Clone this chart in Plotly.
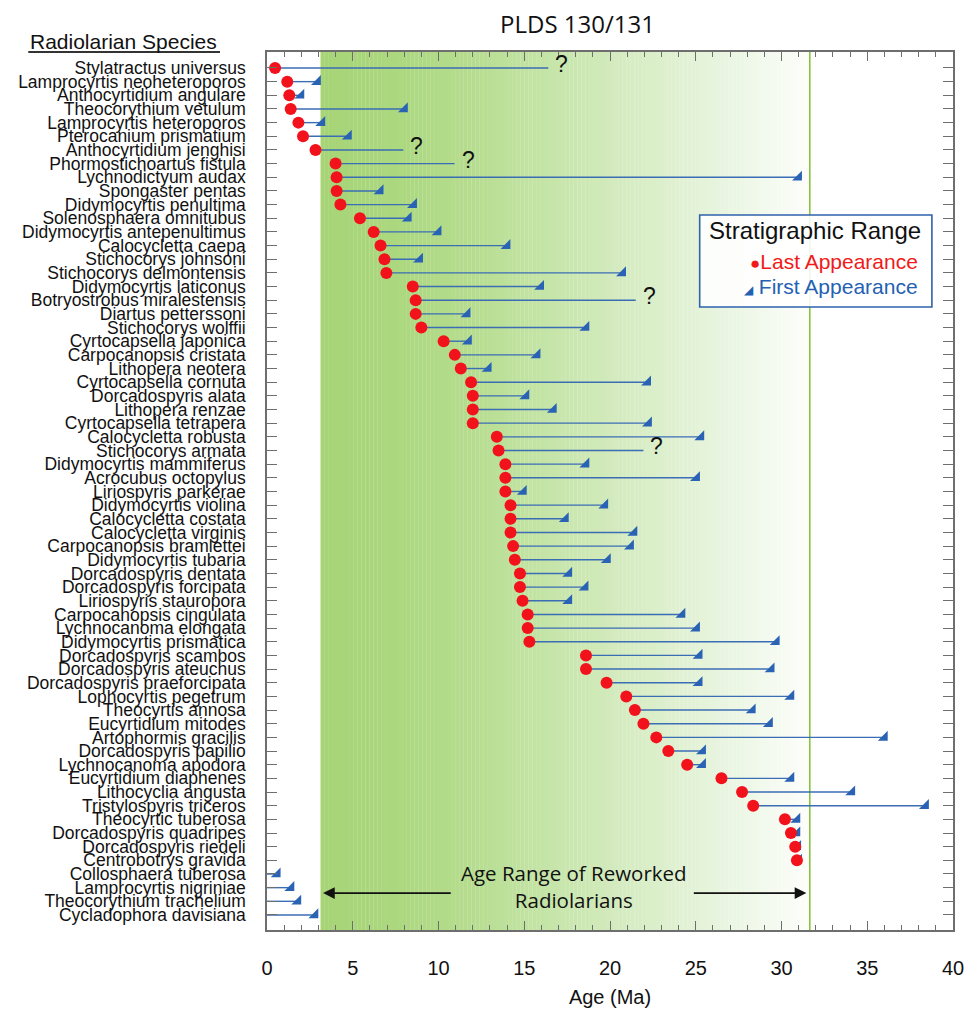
import plotly.graph_objects as go

species = [
    "Stylatractus universus", "Lamprocyrtis neoheteroporos", "Anthocyrtidium angulare",
    "Theocorythium vetulum", "Lamprocyrtis heteroporos", "Pterocanium prismatium",
    "Anthocyrtidium jenghisi", "Phormostichoartus fistula", "Lychnodictyum audax",
    "Spongaster pentas", "Didymocyrtis penultima", "Solenosphaera omnitubus",
    "Didymocyrtis antepenultimus", "Calocycletta caepa", "Stichocorys johnsoni",
    "Stichocorys delmontensis", "Didymocyrtis laticonus", "Botryostrobus miralestensis",
    "Diartus petterssoni", "Stichocorys wolffii", "Cyrtocapsella japonica",
    "Carpocanopsis cristata", "Lithopera neotera", "Cyrtocapsella cornuta",
    "Dorcadospyris alata", "Lithopera renzae", "Cyrtocapsella tetrapera",
    "Calocycletta robusta", "Stichocorys armata", "Didymocyrtis mammiferus",
    "Acrocubus octopylus", "Liriospyris parkerae", "Didymocyrtis violina",
    "Calocycletta costata", "Calocycletta virginis", "Carpocanopsis bramlettei",
    "Didymocyrtis tubaria", "Dorcadospyris dentata", "Dorcadospyris forcipata",
    "Liriospyris stauropora", "Carpocanopsis cingulata", "Lychnocanoma elongata",
    "Didymocyrtis prismatica", "Dorcadospyris scambos", "Dorcadospyris ateuchus",
    "Dorcadospyris praeforcipata", "Lophocyrtis pegetrum", "Theocyrtis annosa",
    "Eucyrtidium mitodes", "Artophormis gracilis", "Dorcadospyris papilio",
    "Lychnocanoma apodora", "Eucyrtidium diaphenes", "Lithocyclia angusta",
    "Tristylospyris triceros", "Theocyrtic tuberosa", "Dorcadospyris quadripes",
    "Dorcadospyris riedeli", "Centrobotrys gravida", "Collosphaera tuberosa",
    "Lamprocyrtis nigriniae", "Theocorythium trachelium", "Cycladophora davisiana",
]

# Last appearance (Ma); None = not shown
last_appearance = [
    0.47, 1.18, 1.3, 1.38, 1.83, 2.1, 2.83, 4.0, 4.06, 4.06,
    4.28, 5.42, 6.22, 6.62, 6.85, 6.96, 8.5, 8.67, 8.67, 9.0,
    10.3, 10.95, 11.3, 11.9, 12.0, 12.0, 12.0, 13.4, 13.5, 13.9,
    13.9, 13.9, 14.2, 14.2, 14.2, 14.35, 14.45, 14.75, 14.75, 14.9,
    15.2, 15.2, 15.3, 18.6, 18.6, 19.8, 20.95, 21.45, 21.95, 22.7,
    23.4, 24.5, 26.5, 27.7, 28.35, 30.2, 30.55, 30.8, 30.9,
    None, None, None, None,
]

# First appearance (Ma)
first_appearance = [
    16.4, 2.95, 1.98, 8.02, 3.2, 4.75, 7.95, 10.94, 31.0, 6.6,
    8.55, 8.24, 9.98, 14.0, 8.9, 20.74, 15.96, 21.5, 11.67, 18.6,
    11.75, 15.75, 12.9, 22.2, 15.1, 16.7, 22.25, 25.3, 21.95, 18.6,
    25.05, 14.95, 19.7, 17.4, 21.4, 21.2, 19.85, 17.6, 18.55, 17.6,
    24.2, 25.05, 29.7, 25.2, 29.4, 25.2, 30.55, 28.3, 29.3, 36.0,
    25.4, 25.4, 30.55, 34.1, 38.4, 30.9, 30.9, 30.95, 31.0,
    0.6, 1.4, 1.8, 2.8,
]

# First appearance uncertain ("?")
first_uncertain = [
    True, False, False, False, False, False, True, True, False, False,
    False, False, False, False, False, False, False, True, False, False,
    False, False, False, False, False, False, False, False, True, False,
    False, False, False, False, False, False, False, False, False, False,
    False, False, False, False, False, False, False, False, False, False,
    False, False, False, False, False, False, False, False, False,
    False, False, False, False,
]

rework_start, rework_end = 3.12, 31.65
x_range = [0, 40]

rows = list(range(1, len(species) + 1))

RED = "#f2121c"
BLUE = "#2a63b3"
LINE_BLUE = "#3b6db5"
AXIS = "#6e6e6e"

fig = go.Figure()

# range lines
lx, ly = [], []
for r, la, fa in zip(rows, last_appearance, first_appearance):
    start = la if la is not None else x_range[0]
    lx += [start, fa, None]
    ly += [r, r, None]
fig.add_trace(go.Scatter(x=lx, y=ly, mode="lines", line=dict(color=LINE_BLUE, width=1.4),
                         hoverinfo="skip", showlegend=False))

# first appearance triangles
tx = [fa for fa, u in zip(first_appearance, first_uncertain) if not u]
ty = [r for r, u in zip(rows, first_uncertain) if not u]
fig.add_trace(go.Scatter(x=tx, y=ty, mode="markers",
                         marker=dict(symbol="triangle-se", size=11, color=BLUE, line=dict(width=0)),
                         showlegend=False, name="First Appearance"))

# last appearance dots
dx = [la for la in last_appearance if la is not None]
dy = [r for r, la in zip(rows, last_appearance) if la is not None]
fig.add_trace(go.Scatter(x=dx, y=dy, mode="markers",
                         marker=dict(symbol="circle", size=12, color=RED, line=dict(width=0)),
                         showlegend=False, name="Last Appearance"))

# gradient band for reworked age range
def lerp(a, b, t):
    return a + (b - a) * t

stops = [
    (3.12, (166, 212, 118)),
    (8.0, (172, 216, 128)),
    (12.0, (182, 221, 143)),
    (16.0, (196, 228, 166)),
    (20.0, (210, 234, 188)),
    (24.0, (224, 241, 210)),
    (28.0, (238, 247, 232)),
    (31.65, (253, 254, 251)),
]

def color_at(x):
    for (x0, c0), (x1, c1) in zip(stops[:-1], stops[1:]):
        if x0 <= x <= x1:
            t = (x - x0) / (x1 - x0)
            return "rgb(%d,%d,%d)" % tuple(round(lerp(a, b, t)) for a, b in zip(c0, c1))
    return "rgb(%d,%d,%d)" % stops[-1][1]

shapes = []
n = 120
w = (rework_end - rework_start) / n
for i in range(n):
    x0 = rework_start + i * w
    shapes.append(dict(type="rect", xref="x", yref="y domain", x0=x0, x1=x0 + w * 1.05,
                       y0=0, y1=1, fillcolor=color_at(x0 + w / 2), line=dict(width=0),
                       layer="below"))
shapes.append(dict(type="line", xref="x", yref="y domain", x0=rework_end, x1=rework_end,
                   y0=0, y1=1, line=dict(color="#86c440", width=1.6), layer="below"))
shapes.append(dict(type="line", xref="x", yref="y domain", x0=rework_start, x1=rework_start,
                   y0=0, y1=1, line=dict(color="#d8ebb4", width=1), layer="below"))
# legend box
shapes.append(dict(type="rect", xref="x", yref="y", x0=25.23, x1=38.77, y0=11.76, y1=18.5,
                   fillcolor="rgba(255,255,255,0.88)", line=dict(color="#2f62ad", width=1.6),
                   layer="below"))
# underline for species header
shapes.append(dict(type="line", xref="paper", yref="paper", x0=-0.348, x1=-0.0685,
                   y0=1.0, y1=1.0, line=dict(color="#333333", width=2)))

annotations = []
for r, fa, u in zip(rows, first_appearance, first_uncertain):
    if u:
        annotations.append(dict(x=fa, y=r - 0.3, xref="x", yref="y", text="?", showarrow=False,
                                xanchor="left", yanchor="middle", xshift=5,
                                font=dict(family="Liberation Sans", size=23, color="#111111")))

annotations += [
    dict(x=0.453, y=1.033, xref="paper", yref="paper", text="PLDS 130/131", showarrow=False,
         font=dict(family="Open Sans", size=24, color="#111111"), xanchor="center", yanchor="middle"),
    dict(x=-0.2085, y=1.0125, xref="paper", yref="paper", text="Radiolarian Species",
         showarrow=False, font=dict(family="Liberation Sans", size=21, color="#111111"),
         xanchor="center", yanchor="middle"),
    dict(x=31.94, y=12.93, xref="x", yref="y", text="Stratigraphic Range", showarrow=False,
         font=dict(family="Liberation Sans", size=24, color="#111111"),
         xanchor="center", yanchor="middle"),
    dict(x=38.1, y=15.2, xref="x", yref="y", xanchor="right", yanchor="middle",
         text="<span style='font-size:17px'>●</span>Last Appearance", showarrow=False,
         font=dict(family="Liberation Sans", size=21, color="#f01a1a")),
    dict(x=38.1, y=16.96, xref="x", yref="y", xanchor="right", yanchor="middle",
         text="<span style='font-size:12px'>◢</span> First Appearance", showarrow=False,
         font=dict(family="Liberation Sans", size=21, color="#2461b3")),
    dict(x=17.9, y=60.95, xref="x", yref="y", text="Age Range of Reworked<br>Radiolarians",
         showarrow=False, font=dict(family="Open Sans", size=20.5, color="#111111"),
         xanchor="center", yanchor="middle"),
    dict(x=rework_start + 0.15, y=61.4, ax=10.8, ay=61.4, xref="x", yref="y", axref="x", ayref="y",
         text="", showarrow=True, arrowhead=2, arrowsize=1.3, arrowwidth=1.8, arrowcolor="#111111"),
    dict(x=rework_end - 0.2, y=61.4, ax=24.8, ay=61.4, xref="x", yref="y", axref="x", ayref="y",
         text="", showarrow=True, arrowhead=2, arrowsize=1.3, arrowwidth=1.8, arrowcolor="#111111"),
]

fig.update_layout(
    width=967, height=1019,
    margin=dict(l=267, r=14, t=52, b=89, autoexpand=False),
    paper_bgcolor="white", plot_bgcolor="white",
    shapes=shapes, annotations=annotations,
    showlegend=False,
    xaxis=dict(
        range=x_range, tickvals=list(range(0, 41, 5)), ticks="inside", ticklen=9,
        tickcolor=AXIS, tickwidth=1.2, showline=True, linecolor=AXIS, linewidth=1.5,
        mirror="allticks", showgrid=False, zeroline=False, automargin=False,
        minor=dict(dtick=1, ticks="inside", ticklen=5, tickcolor=AXIS, tickwidth=1, showgrid=False),
        tickfont=dict(family="Liberation Sans Narrow, Liberation Sans", size=20, color="#111111"),
        ticklabelstandoff=19,
        title=dict(text="Age (Ma)", font=dict(family="Liberation Sans Narrow, Liberation Sans",
                                               size=20, color="#111111"), standoff=12),
    ),
    yaxis=dict(
        range=[64.1, -0.17], tickvals=rows, ticktext=species, ticks="inside", ticklen=10,
        tickcolor=AXIS, tickwidth=1.2, showline=True, linecolor=AXIS, linewidth=1.5,
        mirror="allticks", showgrid=False, zeroline=False, automargin=False,
        tickfont=dict(family="Liberation Sans", size=17.5, color="#111111"),
        ticklabelstandoff=16,
    ),
)

fig.write_html(
    "out.html",
    config={"displayModeBar": False},
    post_script="document.body.style.margin='0';document.body.style.overflow='hidden';",
)
